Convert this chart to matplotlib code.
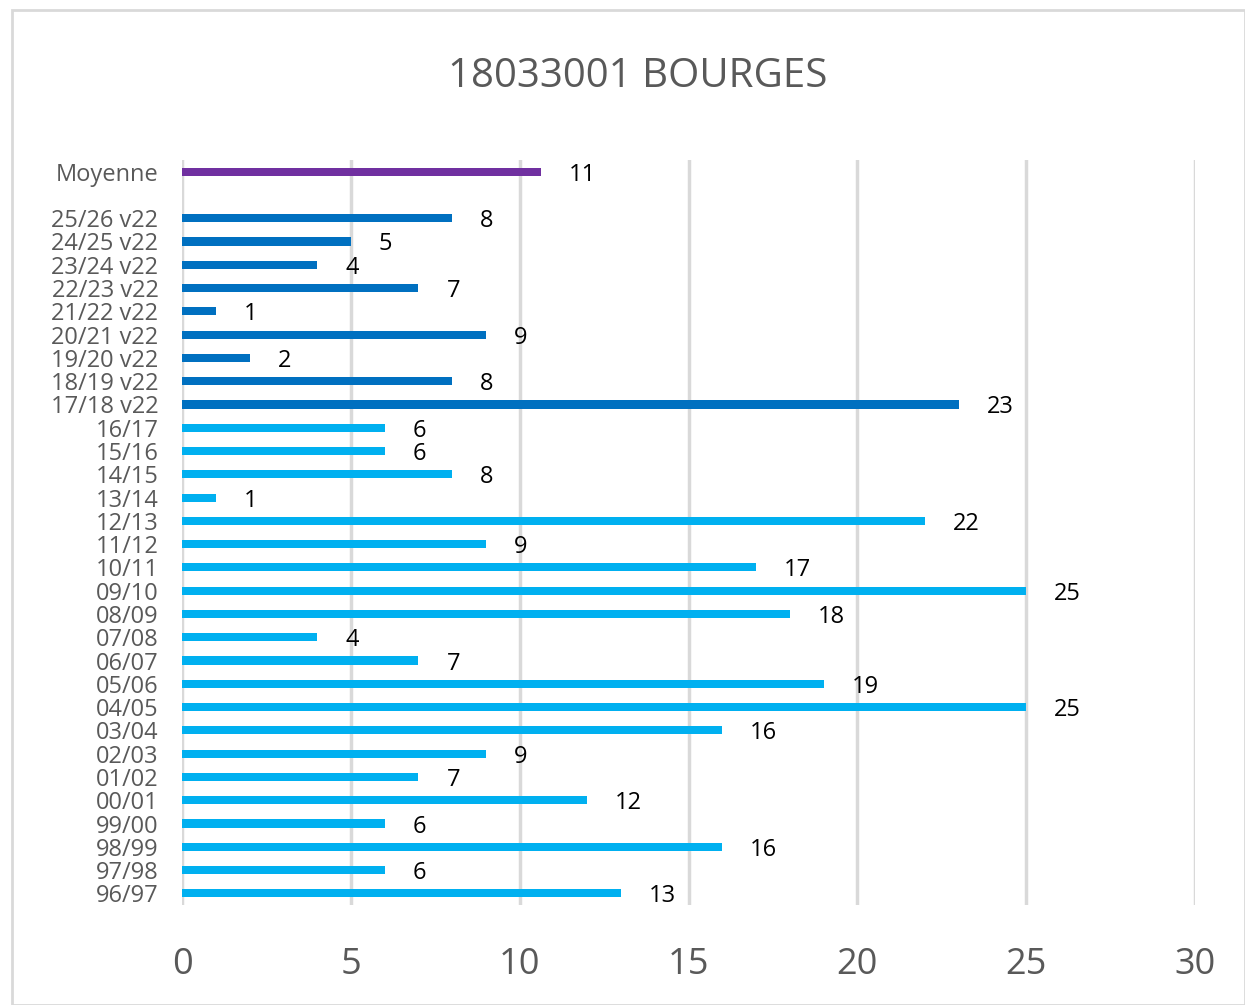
import matplotlib
matplotlib.use("Agg")
import matplotlib.pyplot as plt
from matplotlib.patches import Rectangle

categories = ["96/97", "97/98", "98/99", "99/00", "00/01", "01/02", "02/03", "03/04",
              "04/05", "05/06", "06/07", "07/08", "08/09", "09/10", "10/11", "11/12",
              "12/13", "13/14", "14/15", "15/16", "16/17",
              "17/18 v22", "18/19 v22", "19/20 v22", "20/21 v22", "21/22 v22",
              "22/23 v22", "23/24 v22", "24/25 v22", "25/26 v22"]
values = [13, 6, 16, 6, 12, 7, 9, 16, 25, 19, 7, 4, 18, 25, 17, 9, 22, 1, 8, 6, 6,
          23, 8, 2, 9, 1, 7, 4, 5, 8]
mean_label = "Moyenne"
mean_value = 10.63
title = "18033001 BOURGES"
xticks = [0, 5, 10, 15, 20, 25, 30]

C_OLD = "#00B0F0"
C_V22 = "#0070C0"
C_MEAN = "#7030A0"
GRAY = "#595959"
FONT = ["Liberation Sans Narrow", "Open Sans", "DejaVu Sans"]
plt.rcParams["font.family"] = FONT

W, H = 1245, 1005
fig = plt.figure(figsize=(W / 100, H / 100), dpi=100)
fig.patches.append(Rectangle((12 / W, 0), 1 - 12 / W, 1 - 10 / H, transform=fig.transFigure,
                             fill=False, edgecolor="#D9D9D9", linewidth=2))

ax = fig.add_axes([182 / W, 1 - 905 / H, (1195 - 182) / W, (905 - 160) / H])

ypos = list(range(len(categories)))
colors = [C_V22 if "v22" in c else C_OLD for c in categories]
ax.barh(ypos, values, height=0.35, color=colors, zorder=3)
mean_y = len(categories) + 1
ax.barh([mean_y], [mean_value], height=0.35, color=C_MEAN, zorder=3)

for y, v in zip(ypos, values):
    ax.text(v + 0.83, y, f"{round(v)}", va="center_baseline", ha="left", fontsize=17, color="black")
ax.text(mean_value + 0.83, mean_y, f"{round(mean_value)}", va="center_baseline", ha="left",
        fontsize=17, color="black")

ax.set_yticks(ypos + [mean_y])
ax.set_yticklabels(categories + [mean_label], fontsize=17, color=GRAY)
for lab in ax.get_yticklabels():
    lab.set_verticalalignment("center_baseline")
ax.set_ylim(-0.5, mean_y + 0.5)
ax.set_xlim(0, 30)
ax.set_xticks(xticks)
ax.set_xticklabels([str(t) for t in xticks], fontsize=26, color=GRAY)
ax.tick_params(axis="both", length=0)
ax.tick_params(axis="x", pad=30)
ax.tick_params(axis="y", pad=17)
ax.grid(axis="x", color="#D9D9D9", linewidth=2.5, zorder=0)
for s in ax.spines.values():
    s.set_visible(False)

fig.text(638 / W, 1 - 77 / H, title, ha="center", va="center", fontsize=29, color=GRAY)

fig.savefig("out.png", dpi=100)
